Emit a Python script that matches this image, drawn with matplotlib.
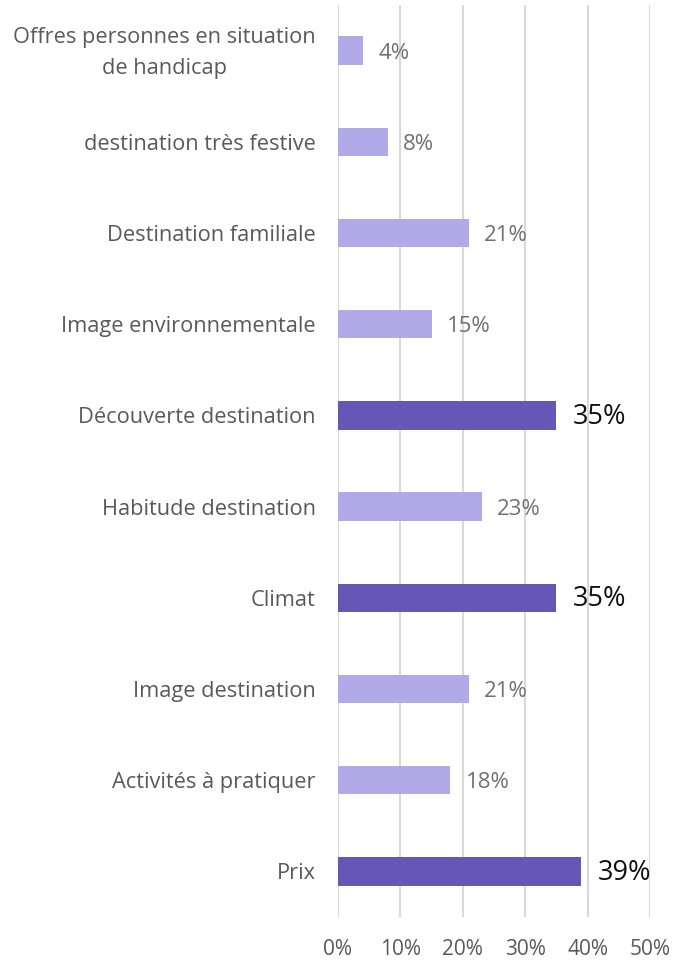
import matplotlib
matplotlib.use("Agg")
import matplotlib.pyplot as plt
import matplotlib.transforms as mtransforms

categories = ["Prix", "Activités à pratiquer", "Image destination", "Climat",
              "Habitude destination", "Découverte destination",
              "Image environnementale", "Destination familiale",
              "destination très festive",
              "Offres personnes en situation\nde handicap"]
values = [39, 18, 21, 35, 23, 35, 15, 21, 8, 4]
highlight = [True, False, False, True, False, True, False, False, False, False]
xticks = [0, 10, 20, 30, 40, 50]

plt.rcParams['font.family'] = ['Open Sans', 'DejaVu Sans']

fig = plt.figure(figsize=(6.77, 9.63), dpi=100)
ax = fig.add_axes([338/677, 1-917/963, 312/677, 912/963])

dark = "#6657b6"
light = "#b1a9e8"
colors = [dark if h else light for h in highlight]
ypos = list(range(len(categories)))
ax.barh(ypos, values, height=0.31, color=colors, zorder=3)

for y, v, h in zip(ypos, values, highlight):
    if h:
        ax.annotate(f"{v}%", (v, y), xytext=(12, -1), textcoords="offset points",
                    va="center", ha="left", fontsize=19.5, color="#111111")
    else:
        ax.annotate(f"{v}%", (v, y), xytext=(11, -2), textcoords="offset points",
                    va="center", ha="left", fontsize=16, color="#707070")

ax.set_xlim(0, 50)
ax.set_ylim(-0.5, 9.5)
ax.set_xticks(xticks)
ax.set_xticklabels([f"{t}%" for t in xticks])
ax.set_yticks(ypos)
ax.set_yticklabels(categories, linespacing=1.6)
ax.tick_params(axis='y', length=0, pad=16, labelsize=15.7, labelcolor="#595959")
ax.tick_params(axis='x', length=0, pad=16, labelsize=15, labelcolor="#595959")
for lab in ax.get_yticklabels():
    lab.set_multialignment("center")
    if "\n" in lab.get_text():
        lab.set_transform(lab.get_transform() +
                          mtransforms.ScaledTranslation(0, 5/100, fig.dpi_scale_trans))
ax.grid(axis='x', color="#d9d9d9", linewidth=1.5, zorder=0)
for s in ax.spines.values():
    s.set_visible(False)

fig.savefig("out.png", dpi=100)
